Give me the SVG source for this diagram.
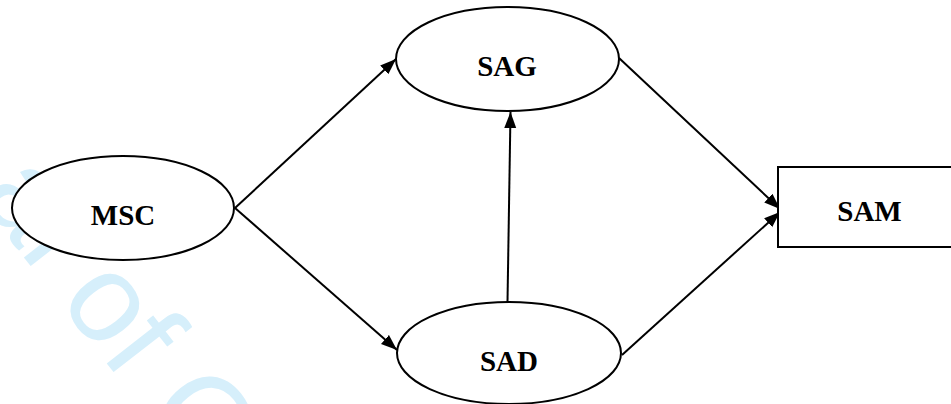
<svg xmlns="http://www.w3.org/2000/svg" width="951" height="404" viewBox="0 0 951 404">
  <defs>
    <marker id="arrow" markerUnits="userSpaceOnUse" markerWidth="17" markerHeight="13" refX="16" refY="6" orient="auto">
      <path d="M0,0 L16,6 L0,12 z" fill="#000"/>
    </marker>
    <style>
      .node { fill: #fff; stroke: #000; stroke-width: 2; }
      .label { font-family: "Liberation Serif", "Times New Roman", serif; font-weight: bold; font-size: 29px; fill: #000; text-anchor: middle; }
      .edge { stroke: #000; stroke-width: 2; fill: none; marker-end: url(#arrow); }
      .wm { font-family: "Liberation Sans", Arial, sans-serif; font-size: 125px; fill: #d6effb; }
    </style>
  </defs>
  <rect width="951" height="404" fill="#fff"/>
  <text class="wm" transform="translate(-24,196) rotate(52)">al of C</text>
  <g id="edges">
    <line class="edge" x1="235" y1="208" x2="396" y2="59"/>
    <line class="edge" x1="235" y1="208" x2="397" y2="350"/>
    <line class="edge" x1="507.5" y1="302" x2="510.5" y2="112"/>
    <line class="edge" x1="619" y1="58" x2="780" y2="209"/>
    <line class="edge" x1="622" y1="355" x2="780" y2="212"/>
  </g>
  <g id="MSC">
    <ellipse class="node" cx="123" cy="208" rx="111" ry="52"/>
    <text class="label" x="123" y="225">MSC</text>
  </g>
  <g id="SAG">
    <ellipse class="node" cx="507.5" cy="59" rx="111.5" ry="52"/>
    <text class="label" x="507" y="76">SAG</text>
  </g>
  <g id="SAD">
    <ellipse class="node" cx="509" cy="353" rx="112" ry="51"/>
    <text class="label" x="509" y="371">SAD</text>
  </g>
  <g id="SAM">
    <rect class="node" x="778" y="167" width="180" height="80"/>
    <text class="label" x="869.5" y="221">SAM</text>
  </g>
</svg>
